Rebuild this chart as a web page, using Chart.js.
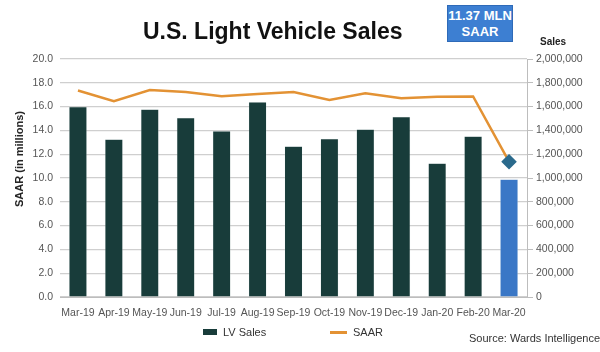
<!DOCTYPE html>
<html>
<head>
<meta charset="utf-8">
<script src="https://cdn.jsdelivr.net/npm/chart.js@4.4.1/dist/chart.umd.min.js"></script>
<style>
  html, body { margin: 0; padding: 0; background: #fff; }
  #wrap { position: relative; width: 600px; height: 352px; font-family: 'Liberation Sans', Arial, sans-serif; }
  #chart { position: absolute; left: 0; top: 0; }
  .title { position: absolute; left: 143px; top: 18px; font-size: 23px; font-weight: bold; color: #111; white-space: nowrap; }
  .badge { position: absolute; left: 447px; top: 5px; width: 66px; height: 37px; background: #3d7fd2; border: 1px solid #2e6ab8; box-sizing: border-box;
           color: #fff; font-weight: bold; font-size: 13px; line-height: 16px; text-align: center; padding-top: 2px; }
  .ytitle { position: absolute; left: 19px; top: 159px; transform: translate(-50%, -50%) rotate(-90deg); font-size: 11px; font-weight: bold; color: #222; white-space: nowrap; }
  .y1title { position: absolute; left: 540px; top: 36px; font-size: 10px; font-weight: bold; color: #222; }
  .source { position: absolute; left: 469px; top: 332px; font-size: 11px; color: #333; white-space: nowrap; }
  .legend { position: absolute; top: 325px; font-size: 11px; color: #333; white-space: nowrap; line-height: 14px; }
  .legend i { display: inline-block; vertical-align: middle; margin-right: 6px; position: relative; top: -1px; }
</style>
</head>
<body>
<div id="wrap">
  <canvas id="chart" width="600" height="352"></canvas>
  <div class="title">U.S. Light Vehicle Sales</div>
  <div class="badge">11.37 MLN<br>SAAR</div>
  <div class="ytitle">SAAR (in millions)</div>
  <div class="y1title">Sales</div>
  <div id="legendSales" class="legend" style="left:203px"></div>
  <div id="legendSaar" class="legend" style="left:330px"></div>
  <div class="source">Source: Wards Intelligence</div>
</div>
<script>
// months shown on the x axis
const months = ['Mar-19', 'Apr-19', 'May-19', 'Jun-19', 'Jul-19', 'Aug-19', 'Sep-19',
  'Oct-19', 'Nov-19', 'Dec-19', 'Jan-20', 'Feb-20', 'Mar-20'];

// monthly light vehicle sales (units, right axis)
const lvSales = [1599000, 1325000, 1577000, 1507000, 1395000, 1639000, 1266000,
  1330000, 1409000, 1515000, 1124000, 1350000, 989000];

// seasonally adjusted annual rate (millions, left axis)
const saar = [17.35, 16.45, 17.4, 17.23, 16.88, 17.05, 17.23, 16.55, 17.12, 16.7, 16.83, 16.85, 11.37];

const leftTicks = [0, 2, 4, 6, 8, 10, 12, 14, 16, 18, 20];
const rightTicks = [0, 200000, 400000, 600000, 800000, 1000000, 1200000, 1400000, 1600000, 1800000, 2000000];

const COLORS = {
  bar: '#183c3a',
  barLast: '#3a77c6',
  line: '#e39234',
  marker: '#2b6a8c',
  grid: '#cfcfcf',
  tick: '#555',
};

Chart.defaults.font.family = "'Liberation Sans', Arial, sans-serif";
Chart.defaults.color = COLORS.tick;

const lastIdx = months.length - 1;

const chart = new Chart(document.getElementById('chart'), {
  data: {
    labels: months,
    datasets: [
      {
        type: 'line',
        label: 'SAAR',
        data: saar,
        yAxisID: 'y',
        borderColor: COLORS.line,
        backgroundColor: COLORS.line,
        borderWidth: 2.5,
        tension: 0,
        pointStyle: 'rectRot',
        pointRadius: saar.map((v, i) => (i === lastIdx ? 6 : 0)),
        pointBackgroundColor: COLORS.marker,
        pointBorderColor: COLORS.marker,
        order: 0,
      },
      {
        type: 'bar',
        label: 'LV Sales',
        data: lvSales,
        yAxisID: 'y1',
        backgroundColor: lvSales.map((v, i) => (i === lastIdx ? COLORS.barLast : COLORS.bar)),
        borderColor: 'rgba(220,230,230,0.6)',
        borderWidth: 0.5,
        barPercentage: 0.5,
        categoryPercentage: 1,
        order: 1,
      },
    ],
  },
  options: {
    responsive: false,
    animation: false,
    layout: { padding: { top: 59, bottom: 31, left: 0, right: 0 } },
    plugins: {
      title: { display: false },
      tooltip: { enabled: false },
      legend: { display: false },
    },
    scales: {
      x: {
        grid: { display: false },
        border: { display: true, color: '#bdbdbd' },
        ticks: { font: { size: 10.5 }, padding: 2, maxRotation: 0, autoSkip: false },
        afterFit: (s) => { s.height = 24; },
      },
      y: {
        position: 'left',
        min: 0,
        max: 20,
        afterBuildTicks: (s) => { s.ticks = leftTicks.map((v) => ({ value: v })); },
        ticks: { font: { size: 10.5 }, padding: 7, callback: (v) => v.toFixed(1) },
        grid: { color: COLORS.grid, lineWidth: 1.2, drawTicks: false },
        border: { display: false },
        afterFit: (s) => { s.width = 60; },
      },
      y1: {
        position: 'right',
        min: 0,
        max: 2000000,
        afterBuildTicks: (s) => { s.ticks = rightTicks.map((v) => ({ value: v })); },
        ticks: { font: { size: 10.5 }, padding: 3, callback: (v) => v.toLocaleString('en-US') },
        grid: { drawOnChartArea: false, color: '#bdbdbd', tickLength: 6 },
        border: { display: true, color: '#bdbdbd' },
        afterFit: (s) => { s.width = 73; },
      },
    },
  },
});

// simple HTML legend built from the chart's datasets
const barDs = chart.data.datasets[1];
const lineDs = chart.data.datasets[0];
document.getElementById('legendSales').innerHTML =
  `<i style="width:14px;height:6px;background:${COLORS.bar}"></i>${barDs.label}`;
document.getElementById('legendSaar').innerHTML =
  `<i style="width:17px;height:3px;background:${COLORS.line}"></i>${lineDs.label}`;
</script>
</body>
</html>
